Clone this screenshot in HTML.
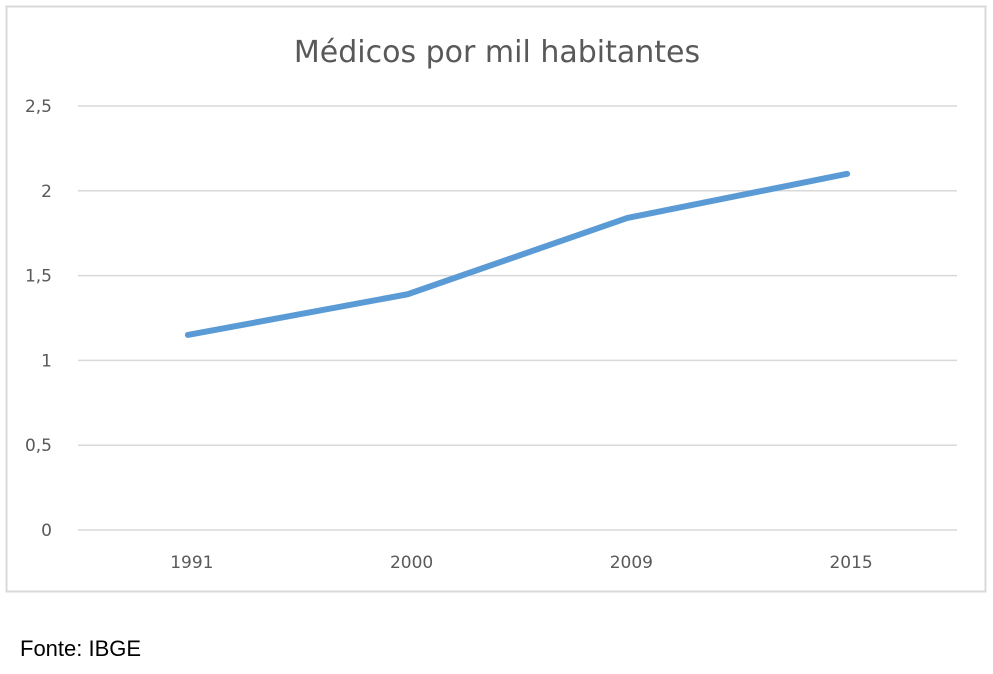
<!DOCTYPE html>
<html><head><meta charset="utf-8"><style>
body{margin:0;background:#fff;width:993px;height:669px;overflow:hidden;font-family:"Liberation Sans",sans-serif}
</style></head><body>
<svg width="993" height="669">
<rect x="6.5" y="6.5" width="979" height="585" fill="#fff" stroke="#d9d9d9" stroke-width="2"/>
<text x="497" y="62" text-anchor="middle" font-size="30" fill="#595959" font-family="DejaVu Sans, sans-serif">Médicos por mil habitantes</text>
<g id="grid"></g><g id="ylab"></g><g id="xlab"></g>
<path id="line" fill="none" stroke="#5b9bd5" stroke-width="6" stroke-linecap="round" stroke-linejoin="round"/>
<text x="20" y="656" font-size="22" fill="#000">Fonte: IBGE</text>
</svg>
<script>
const categories=["1991","2000","2009","2015"];
const values=[1.15,1.39,1.84,2.1];
const yTicks=[0,0.5,1,1.5,2,2.5];
const yTickLabels=["0","0,5","1","1,5","2","2,5"];
const x0=78,x1=957,y0=530,y1=106,yMax=2.5;
const ns="http://www.w3.org/2000/svg";
function xs(i){return x0+(x1-x0)/categories.length*(i+0.5);}
function ys(v){return y0-(y0-y1)*v/yMax;}
const g=document.getElementById('grid'),yl=document.getElementById('ylab'),xl=document.getElementById('xlab');
yTicks.forEach((t,i)=>{
 const l=document.createElementNS(ns,'line');
 
 
 l.setAttribute('x1',x0);l.setAttribute('x2',x1);l.setAttribute('y1',ys(t));l.setAttribute('y2',ys(t));
 l.setAttribute('stroke','#d9d9d9');l.setAttribute('stroke-width','1.5');g.appendChild(l);
 const tx=document.createElementNS(ns,'text');
 
 
 tx.setAttribute('x',52);tx.setAttribute('y',ys(t)+6);tx.setAttribute('text-anchor','end');
 tx.setAttribute('font-size','17');tx.setAttribute('fill','#595959');tx.setAttribute('font-family','DejaVu Sans, sans-serif');
 tx.textContent=yTickLabels[i];yl.appendChild(tx);
});
categories.forEach((c,i)=>{
 const tx=document.createElementNS(ns,'text');
 
 
 tx.setAttribute('x',xs(i)+4);tx.setAttribute('y',568);tx.setAttribute('text-anchor','middle');
 tx.setAttribute('font-size','17');tx.setAttribute('fill','#595959');tx.setAttribute('font-family','DejaVu Sans, sans-serif');
 tx.textContent=c;xl.appendChild(tx);
});
document.getElementById('line').setAttribute('d',values.map((v,i)=>(i?'L':'M')+xs(i)+','+ys(v)).join(' '));
</script>
</body></html>
